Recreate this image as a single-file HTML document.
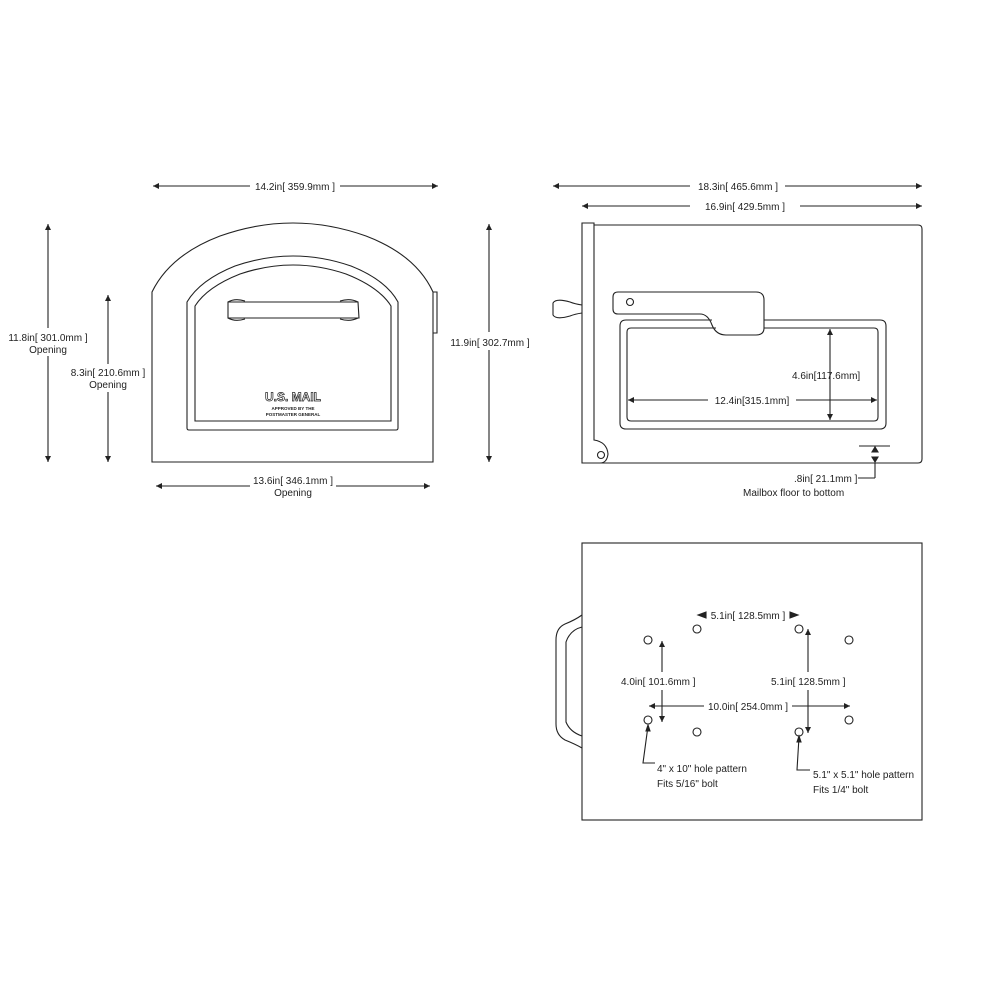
<!DOCTYPE html>
<html><head><meta charset="utf-8"><style>
html,body{margin:0;padding:0;background:#fff;}
svg{display:block;}
text{font-family:"Liberation Sans",sans-serif;font-size:10px;fill:#222;}
</style></head><body>
<svg width="1000" height="1000" viewBox="0 0 1000 1000" xmlns="http://www.w3.org/2000/svg">
<defs>
<marker id="a" viewBox="0 0 10 10" refX="10" refY="5" markerWidth="8" markerHeight="6" orient="auto-start-reverse" markerUnits="userSpaceOnUse"><path d="M0,0L10,5L0,10z" fill="#222"/></marker>
</defs>
<g fill="none" stroke="#222" stroke-width="1.1">
<!-- FRONT VIEW -->
<path d="M152,462 L152,292 Q170,255 220,236 Q293,210 366,236 Q416,255 433,292 L433,462 Z"/>
<path d="M187,428 L187,302 Q200,280 235,266 Q293,246 351,266 Q386,280 398,302 L398,428 Q398,430 396,430 L189,430 Q187,430 187,428Z"/>
<path d="M195,421 L195,306 Q207,287 240,274 Q293,256 346,274 Q379,287 391,306 L391,421 Z"/>
<path d="M228,302 L358,302 L359,318 L228,318 Z"/>
<path d="M228,302 Q235,298 245,301 M340,301 Q350,298 358,302 M228,318 Q235,322 245,319 M340,319 Q350,322 358,318"/>
<path d="M433,292 L437,292 L437,333 L433,333"/>
<!-- front dims -->
<line x1="153" y1="186" x2="250" y2="186" marker-start="url(#a)"/>
<line x1="340" y1="186" x2="438" y2="186" marker-end="url(#a)"/>
<line x1="48" y1="224" x2="48" y2="328" marker-start="url(#a)"/>
<line x1="48" y1="356" x2="48" y2="462" marker-end="url(#a)"/>
<line x1="108" y1="295" x2="108" y2="364" marker-start="url(#a)"/>
<line x1="108" y1="392" x2="108" y2="462" marker-end="url(#a)"/>
<line x1="489" y1="224" x2="489" y2="332" marker-start="url(#a)"/>
<line x1="489" y1="350" x2="489" y2="462" marker-end="url(#a)"/>
<line x1="156" y1="486" x2="250" y2="486" marker-start="url(#a)"/>
<line x1="336" y1="486" x2="430" y2="486" marker-end="url(#a)"/>
<!-- SIDE VIEW -->
<path d="M594,225 L918,225 Q922,225 922,229 L922,459 Q922,463 918,463 L582,463 L582,223 L594,223 L594,440 Q607,442 608,454 Q607,463 600,463"/>
<circle cx="601" cy="455" r="3.5"/>
<path d="M582,305 Q575,304 570,302 Q556,298 553,303 L553,315 Q556,320 570,316 Q575,314 582,313"/>
<path d="M618,292 L756,292 Q764,292 764,300 L764,328 Q764,335 756,335 L726,335 Q716,335 712,325 Q708,314 700,314 L618,314 Q613,314 613,309 L613,297 Q613,292 618,292Z"/>
<circle cx="630" cy="302" r="3.5"/>
<path d="M712,320 L626,320 Q620,320 620,326 L620,423 Q620,429 626,429 L880,429 Q886,429 886,423 L886,326 Q886,320 880,320 L764,320"/>
<path d="M716,328 L631,328 Q627,328 627,332 L627,417 Q627,421 631,421 L874,421 Q878,421 878,417 L878,332 Q878,328 874,328 L764,328"/>
<line x1="553" y1="186" x2="690" y2="186" marker-start="url(#a)"/>
<line x1="785" y1="186" x2="922" y2="186" marker-end="url(#a)"/>
<line x1="582" y1="206" x2="690" y2="206" marker-start="url(#a)"/>
<line x1="800" y1="206" x2="922" y2="206" marker-end="url(#a)"/>
<line x1="830" y1="329" x2="830" y2="420" marker-start="url(#a)" marker-end="url(#a)"/>
<line x1="628" y1="400" x2="708" y2="400" marker-start="url(#a)"/>
<line x1="796" y1="400" x2="877" y2="400" marker-end="url(#a)"/>
<line x1="859" y1="446" x2="890" y2="446"/>
<line x1="875" y1="446" x2="875" y2="450" />
<line x1="875" y1="463" x2="875" y2="478"/>
<path d="M875,447 l-3,5 h6z M875,462 l-3,-5 h6z" fill="#222"/>
<line x1="858" y1="478" x2="875" y2="478"/>
<!-- BOTTOM VIEW -->
<rect x="582" y="543" width="340" height="277"/>
<path d="M582,615 Q575,620 565,624 Q556,628 556,640 L556,724 Q556,735 565,740 Q575,744 582,748"/>
<path d="M582,627 Q570,630 566,642 L566,722 Q570,732 582,736"/>
<circle cx="648" cy="640" r="4"/><circle cx="697" cy="629" r="4"/><circle cx="799" cy="629" r="4"/><circle cx="849" cy="640" r="4"/>
<circle cx="648" cy="720" r="4"/><circle cx="697" cy="732" r="4"/><circle cx="799" cy="732" r="4"/><circle cx="849" cy="720" r="4"/>
<path d="M698,615 l8,-3 v6z M798,615 l-8,-3 v6z" fill="#222"/>
<line x1="662" y1="641" x2="662" y2="672" marker-start="url(#a)"/>
<line x1="662" y1="690" x2="662" y2="722" marker-end="url(#a)"/>
<line x1="808" y1="629" x2="808" y2="672" marker-start="url(#a)"/>
<line x1="808" y1="690" x2="808" y2="733" marker-end="url(#a)"/>
<line x1="649" y1="706" x2="704" y2="706" marker-start="url(#a)"/>
<line x1="792" y1="706" x2="850" y2="706" marker-end="url(#a)"/>
<path d="M648,726 L643,763 L655,763"/><path d="M648,725 l-2,6 h4z" fill="#222"/>
<path d="M799,737 L797,770 L810,770"/><path d="M799,736 l-2,6 h4z" fill="#222"/>
</g>
<g text-anchor="middle">
<text x="295" y="190">14.2in[ 359.9mm ]</text>
<text x="48" y="341">11.8in[ 301.0mm ]</text>
<text x="48" y="353">Opening</text>
<text x="108" y="376">8.3in[ 210.6mm ]</text>
<text x="108" y="388">Opening</text>
<text x="490" y="346">11.9in[ 302.7mm ]</text>
<text x="293" y="484">13.6in[ 346.1mm ]</text>
<text x="293" y="496">Opening</text>
<text x="293" y="401" style="font-size:12px;font-weight:bold;fill:#fff;stroke:#222;stroke-width:0.7">U.S. MAIL</text>
<text x="293" y="410" style="font-size:4.5px;font-weight:bold">APPROVED BY THE</text>
<text x="293" y="416" style="font-size:4.5px;font-weight:bold">POSTMASTER GENERAL</text>
<text x="738" y="190">18.3in[ 465.6mm ]</text>
<text x="745" y="210">16.9in[ 429.5mm ]</text>
<text x="752" y="404">12.4in[315.1mm]</text>
<text x="748" y="619">5.1in[ 128.5mm ]</text>
<text x="748" y="710">10.0in[ 254.0mm ]</text>
</g>
<text x="792" y="379">4.6in[117.6mm]</text>
<text x="794" y="482">.8in[ 21.1mm ]</text>
<text x="743" y="496">Mailbox floor to bottom</text>
<text x="621" y="685">4.0in[ 101.6mm ]</text>
<text x="771" y="685">5.1in[ 128.5mm ]</text>
<text x="657" y="772">4" x 10" hole pattern</text>
<text x="657" y="787">Fits 5/16" bolt</text>
<text x="813" y="778">5.1" x 5.1" hole pattern</text>
<text x="813" y="793">Fits 1/4" bolt</text>
</svg>
</body></html>
